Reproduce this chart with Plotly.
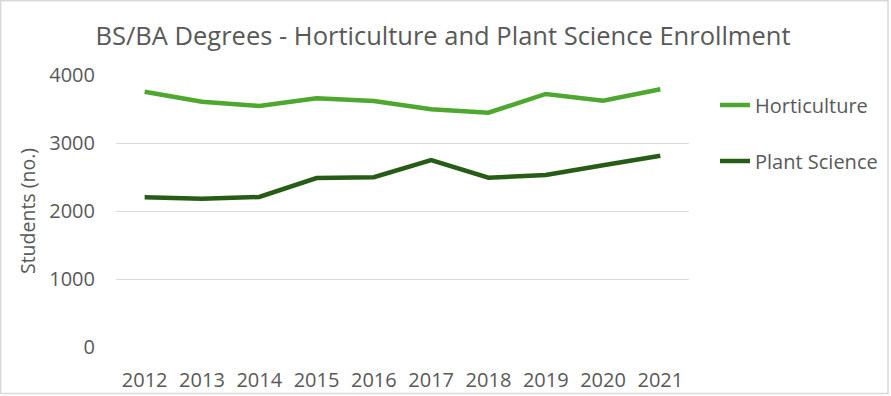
import plotly.graph_objects as go

years = ["2012", "2013", "2014", "2015", "2016", "2017", "2018", "2019", "2020", "2021"]
horticulture = [3754, 3607, 3544, 3657, 3618, 3496, 3446, 3721, 3622, 3790]
plant_science = [2201, 2181, 2206, 2485, 2496, 2750, 2490, 2529, 2672, 2813]
y_ticks = [0, 1000, 2000, 3000, 4000]

FONT = "Open Sans"
TXT = "#595959"

fig = go.Figure()
fig.add_trace(go.Scatter(x=years, y=horticulture, name="Horticulture", mode="lines",
                         line=dict(color="#4EA72E", width=4.5), legend="legend"))
fig.add_trace(go.Scatter(x=years, y=plant_science, name="Plant Science", mode="lines",
                         line=dict(color="#275C17", width=4.5), legend="legend2"))

L, R, T, B = 116, 202, 75, 49
W, H = 891, 396
pw, ph = W - L - R, H - T - B


def px_x(x):
    return (x - L) / pw


def px_y(y):
    return (H - B - y) / ph


leg_common = dict(xanchor="left", yanchor="middle", font=dict(size=20, color=TXT),
                  bgcolor="rgba(0,0,0,0)", borderwidth=0)

fig.update_layout(
    width=W, height=H,
    margin=dict(l=L, r=R, t=T, b=B, autoexpand=False),
    paper_bgcolor="white", plot_bgcolor="white",
    font=dict(family=FONT, color=TXT, size=20),
    title=dict(text="BS/BA Degrees - Horticulture and Plant Science Enrollment",
               x=(443 - L) / pw, xref="paper", xanchor="center", y=1 - 36 / H, yanchor="middle",
               font=dict(size=25.5, color=TXT, family=FONT)),
    showlegend=True,
    legend=dict(x=px_x(715), y=px_y(105), **leg_common),
    legend2=dict(x=px_x(715), y=px_y(161), **leg_common),
    xaxis=dict(type="category", range=[-0.5, 9.5], showgrid=False, zeroline=False,
               showline=False, ticks="", tickfont=dict(size=20, color=TXT),
               ticklabelstandoff=19, automargin=False),
    yaxis=dict(range=[0, 4000], tickvals=y_ticks, showgrid=True, gridcolor="#D9D9D9",
               gridwidth=1.3, zeroline=False, showline=False, ticks="",
               tickfont=dict(size=20, color=TXT), ticklabelstandoff=20, automargin=False,
               title=dict(text="Students (no.)", font=dict(size=19.5, color=TXT), standoff=8)),
    shapes=[dict(type="rect", xref="paper", yref="paper",
                 x0=px_x(0.75), x1=px_x(888),
                 y0=px_y(393.5), y1=px_y(0.75),
                 line=dict(color="#D9D9D9", width=1.5), layer="below")],
)

fig.write_html("out.html", post_script="document.body.style.margin='0';",
               config={"displayModeBar": False})
